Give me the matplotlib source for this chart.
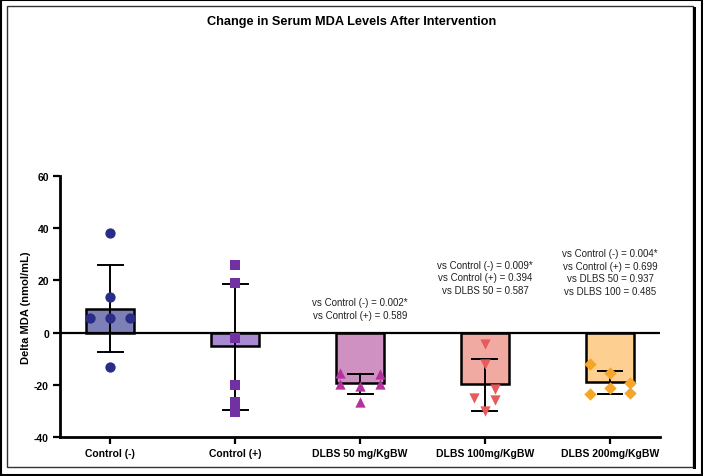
import matplotlib.pyplot as plt
import numpy as np
from matplotlib.patches import Rectangle

plt.rcParams['font.family'] = ['Liberation Sans', 'DejaVu Sans']
plt.rcParams['axes.unicode_minus'] = False

groups = ["Control (-)", "Control (+)", "DLBS 50 mg/KgBW", "DLBS 100mg/KgBW", "DLBS 200mg/KgBW"]
means = [9.0, -5.2, -19.3, -19.8, -18.9]
sd_upper = [26.0, 18.5, -15.8, -10.2, -14.9]
sd_lower = [-7.5, -29.8, -23.7, -30.2, -23.6]

points = [
    [38.0, 13.5, 5.5, 5.5, 5.5, -13.2],
    [26.0, 19.0, -2.0, -20.0, -26.5, -30.5],
    [-15.5, -19.6, -20.5, -26.5, -16.0, -19.6],
    [-4.3, -12.0, -25.0, -21.5, -26.0, -30.0],
    [-12.0, -15.3, -19.5, -21.3, -23.6, -23.3],
]
offsets = [
    [0.0, 0.0, -0.16, 0.0, 0.16, 0.0],
    [0.0, 0.0, 0.0, 0.0, 0.0, 0.0],
    [-0.16, -0.16, 0.0, 0.0, 0.16, 0.16],
    [0.0, 0.0, -0.09, 0.08, 0.08, 0.0],
    [-0.16, 0.0, 0.16, 0.0, -0.16, 0.16],
]

bar_colors = ["#7d80b6", "#a98ad2", "#cf90c2", "#f1aaa2", "#fdd091"]
marker_colors = ["#2a2d85", "#7131a3", "#b3329e", "#e85a5c", "#f5a52a"]
markers = ["o", "s", "^", "v", "D"]
msizes = [55, 50, 55, 55, 40]

notes = [
    None,
    None,
    "vs Control (-) = 0.002*\nvs Control (+) = 0.589",
    "vs Control (-) = 0.009*\nvs Control (+) = 0.394\nvs DLBS 50 = 0.587",
    "vs Control (-) = 0.004*\nvs Control (+) = 0.699\nvs DLBS 50 = 0.937\nvs DLBS 100 = 0.485",
]
note_y = [None, None, 13.5, 28.0, 32.5]

fig = plt.figure(figsize=(7.03, 4.77), dpi=100)
ax = fig.add_axes([60 / 703, 1 - 438 / 477, 600 / 703, 261 / 477])

x = np.arange(len(groups))
ax.bar(x, means, width=0.38, color=bar_colors, edgecolor="black", linewidth=1.8, zorder=2)
ax.axhline(0, color="black", linewidth=1.6, zorder=3)

for i in range(len(groups)):
    ax.plot([x[i], x[i]], [sd_lower[i], sd_upper[i]], color="black", linewidth=1.4, zorder=4)
    for yv in (sd_lower[i], sd_upper[i]):
        ax.plot([x[i] - 0.1, x[i] + 0.1], [yv, yv], color="black", linewidth=1.4, zorder=4)
    px = x[i] + np.array(offsets[i])
    ax.scatter(px, points[i], marker=markers[i], s=msizes[i], color=marker_colors[i],
               linewidths=0, zorder=5)
    if notes[i]:
        ax.text(x[i], note_y[i], notes[i], ha="center", va="top", fontsize=7,
                linespacing=1.35, color="#222222")

ax.set_xlim(-0.4, 4.4)
ax.set_ylim(-40, 60)
ax.set_yticks([-40, -20, 0, 20, 40, 60])
ax.set_xticks(x)
ax.set_xticklabels(groups, fontsize=7.5, fontweight="bold")
for lab in ax.get_yticklabels():
    lab.set_fontweight("bold")
    lab.set_fontsize(7.5)
ax.tick_params(axis="both", width=1.6, length=5, pad=3)
for s in ["top", "right"]:
    ax.spines[s].set_visible(False)
for s in ["left", "bottom"]:
    ax.spines[s].set_linewidth(2)
ax.set_ylabel("Delta MDA (nmol/mL)", fontsize=8, fontweight="bold", labelpad=2)

fig.text(0.5, 1 - 22 / 477, "Change in Serum MDA Levels After Intervention",
         ha="center", va="center", fontsize=9.2, fontweight="bold")

# frames around the figure
fig.patches.append(Rectangle((0.002, 0.002), 0.996, 0.996, transform=fig.transFigure,
                             fill=False, edgecolor="black", linewidth=1.5))
fig.patches.append(Rectangle((7 / 703, 1 - 468 / 477), 686 / 703, 461 / 477, transform=fig.transFigure,
                             fill=False, edgecolor="#333333", linewidth=1.0))
fig.patches.append(Rectangle((693 / 703, 1 - 470 / 477), 3 / 703, 462 / 477, transform=fig.transFigure,
                             color="black", linewidth=0))

fig.savefig("out.png", dpi=100)
